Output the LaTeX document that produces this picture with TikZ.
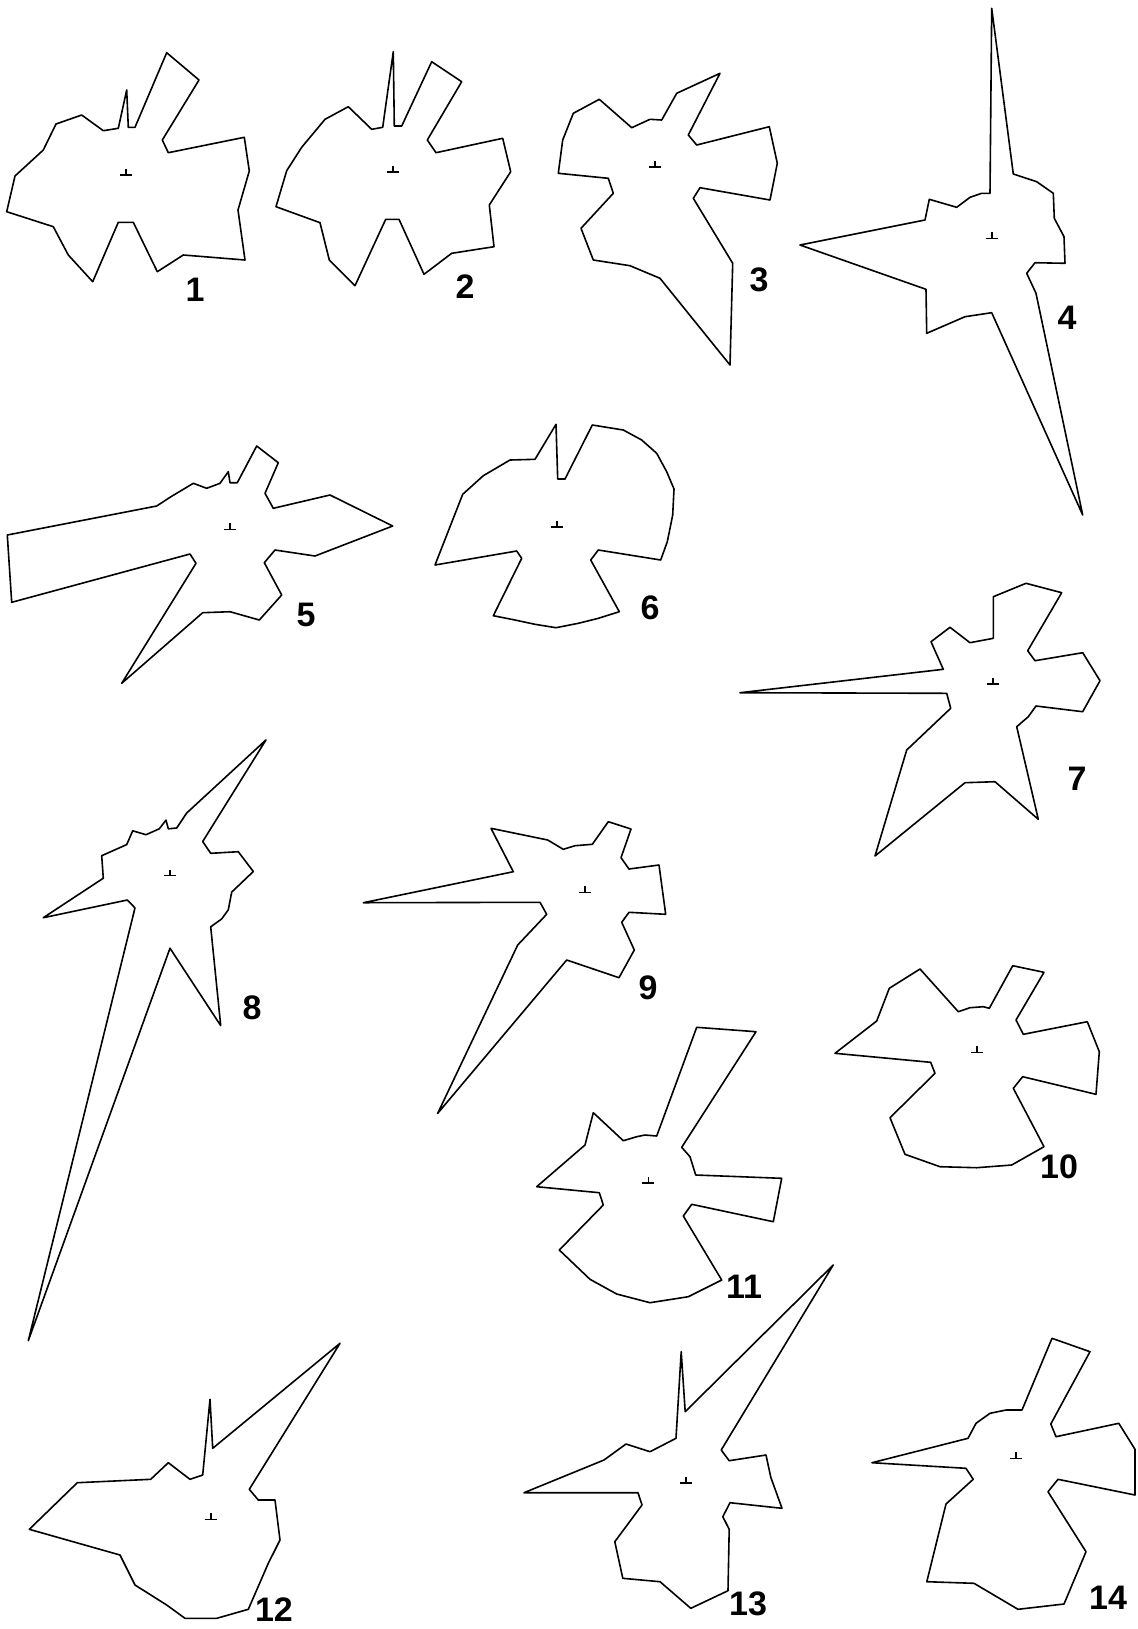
\documentclass[tikz,border=0pt]{standalone}
\usepackage{fontspec}
\setmainfont{Liberation Sans}
\begin{document}
\begin{tikzpicture}[x=0.5pt,y=-0.5pt,
  outline/.style={draw=black,line width=0.8pt,line join=round},
  ctrmk/.style={draw=black,line width=0.8pt},
  fignum/.style={font=\fontsize{17}{17}\selectfont\bfseries,inner sep=0pt},
  ctr/.pic={\draw[ctrmk] (-6,0) -- (6,0) (0,0) -- (0,-6);}]
\useasboundingbox[fill=white] (0,0) rectangle (1137,1629);

% Figure 1
\draw[outline] (118.3,128.3)--(126.7,90)--(128.3,127.3)--(135,127.3)--(166.7,52.7)--(199,80)--(162.3,140)--(168.3,152.7)--(244.3,137.3)--(249.3,171)--(238,210)--(245,260)--(183.3,255)--(157.3,271.7)--(133.3,222.3)--(118.3,222.3)--(92.7,281.7)--(68.3,255)--(53.3,226.7)--(6.7,211.7)--(15,176)--(43.3,150)--(56,124)--(81.7,115)--(103.3,130.7)--cycle;
\pic at (126,175) {ctr};
\node[fignum] (n1) at (195,290) {1};

% Figure 2
\draw[outline] (371.7,129.3)--(382.7,127.3)--(393.3,51.7)--(394.3,126)--(401.7,126)--(431.7,61.7)--(461.7,81.7)--(427.3,140)--(436,152.7)--(502.7,138.3)--(510.7,171.7)--(489.3,205)--(494,246.7)--(451.7,253.3)--(424,274.3)--(399,219.3)--(385.7,219.3)--(355,285.7)--(329.3,260)--(320,222.7)--(276,206.7)--(286.7,170.7)--(301.7,147.3)--(325,119.3)--(348.3,106.7)--cycle;
\pic at (392.7,171.7) {ctr};
\node[fignum] (n2) at (465,287) {2};

% Figure 3
\draw[outline] (631.7,127.7)--(650,119.3)--(661.7,120)--(676.7,93.3)--(720,73.3)--(688.3,135)--(696.7,145)--(769.3,126.7)--(777.3,163.3)--(770,200)--(700,187.7)--(693.3,198.3)--(732.7,263.3)--(730,365)--(660,278.3)--(630,265.7)--(593.3,260)--(581,228.3)--(613.3,193.3)--(608.3,178.3)--(558.3,173.3)--(562.7,140)--(573.3,113.3)--(599.3,99.3)--cycle;
\pic at (655,166.7) {ctr};
\node[fignum] (n3) at (759,280) {3};

% Figure 4
\draw[outline] (991.7,8.3)--(1013.3,174)--(1036.7,181.7)--(1053.3,193.3)--(1054.3,218.3)--(1064,236.7)--(1065,263.3)--(1035,262.7)--(1026.7,273.3)--(1036,293.3)--(1082.7,515)--(991.7,312.7)--(965,316.7)--(926.7,333.3)--(926,289.3)--(800,245)--(925,220)--(929.3,199.3)--(956.7,207.3)--(970,197.3)--(981.7,193.3)--(990,193.3)--cycle;
\pic at (991.7,238.3) {ctr};
\node[fignum] (n4) at (1067,318) {4};

% Figure 5
\draw[outline] (7.3,535)--(156.7,506)--(170,497.3)--(183.3,489.3)--(193.3,483.3)--(206.7,488.3)--(220,483.3)--(228.3,471.7)--(230,482.7)--(237.3,482.7)--(256.7,446)--(278.3,462.7)--(265,493.3)--(273.3,508.3)--(330,495)--(392.7,526)--(315,556)--(275,550)--(264.3,562.7)--(281.7,595)--(259.3,620)--(230,611.7)--(202.7,612.7)--(121.7,683.3)--(196,563.3)--(190,554)--(11.7,602.3)--cycle;
\pic at (230,529.3) {ctr};
\node[fignum] (n5) at (306,615) {5};

% Figure 6
\draw[outline] (556,424.3)--(557.7,479)--(565,479)--(592.3,425)--(623.3,430)--(641.7,440)--(656.7,453.3)--(666.7,471.7)--(674,489)--(672.7,515)--(667.3,541.7)--(660.7,560)--(598.3,550)--(590.7,560)--(619.3,611.7)--(598.3,618.3)--(578.3,623.3)--(556,627.7)--(535,624.3)--(515,620)--(493.3,615.7)--(521.7,558.3)--(516.7,551)--(435,565)--(462.7,494.3)--(483.3,475.7)--(510,460)--(535,459.3)--cycle;
\pic at (556.7,526.7) {ctr};
\node[fignum] (n6) at (650,608) {6};

% Figure 7
\draw[outline] (740,692.7)--(943.3,669.3)--(931,641.7)--(950,627.3)--(970,642.7)--(993.3,638.3)--(993.3,596.7)--(1026,583.3)--(1061.7,592.7)--(1027.7,650.7)--(1035,660.7)--(1082.7,652.7)--(1100,680.7)--(1082.7,711.7)--(1036,706)--(1028.3,716.7)--(1016.7,726.7)--(1038.3,819.3)--(995,781.7)--(965,782.7)--(875,856)--(906.7,750)--(950.7,708.3)--(946.7,693.3)--cycle;
\pic at (992.7,684) {ctr};
\node[fignum] (n7) at (1077,779) {7};

% Figure 8
\draw[outline] (266,739.9)--(202.7,841.5)--(210.7,853.3)--(238.3,851.7)--(253.3,871.5)--(231.7,892.1)--(228.3,909.8)--(221.7,918.9)--(210.7,926.8)--(220.7,1025.6)--(170,948.2)--(28.3,1340.7)--(135,907.9)--(127.3,900)--(43.3,917.7)--(103.3,878.2)--(101.7,855.7)--(126.7,844.6)--(132.7,830.8)--(146,834.7)--(159.3,828.8)--(166,820.1)--(168.3,828.8)--(176.7,828)--(186.7,813)--cycle;
\pic at (170,875.5) {ctr};
\node[fignum] (n8) at (252,1008) {8};

% Figure 9
\draw[outline] (363.3,902.7)--(513.3,871.7)--(491,828.3)--(547.7,840)--(563.3,849.3)--(575,845.7)--(592.3,844.3)--(608.3,821.7)--(631,829)--(621,857.7)--(629,869)--(659,865)--(665.7,914.3)--(629,912.3)--(621.7,922.3)--(634.3,950)--(619,977.7)--(566.7,960)--(437.7,1113.3)--(517.7,945)--(546.7,914.3)--(540,902.3)--cycle;
\pic at (585,892.3) {ctr};
\node[fignum] (n9) at (648,988) {9};

% Figure 10
\draw[outline] (835,1053.3)--(876.7,1021)--(889.3,988.3)--(920,969)--(958.3,1011.7)--(970,1007.7)--(983.3,1006.7)--(989.3,1008.3)--(1012.7,965.7)--(1044,972.3)--(1016,1020)--(1023.3,1034.3)--(1087.3,1021.7)--(1099.3,1051.7)--(1096,1094.3)--(1022.7,1076.7)--(1013.3,1088.3)--(1044,1146.7)--(1011.7,1165)--(976.7,1167.7)--(940,1166.7)--(905,1154.3)--(890,1117.7)--(935,1073.3)--(930.7,1062.3)--cycle;
\pic at (976.7,1052.3) {ctr};
\node[fignum] (n10) at (1059,1167) {10};

% Figure 11
\draw[outline] (536.7,1186.7)--(585,1145)--(593.3,1112.7)--(623.3,1140.7)--(636.7,1136.7)--(645,1135)--(656.7,1136)--(696.7,1027.3)--(756,1031.7)--(681.7,1147.3)--(690,1156.7)--(695.7,1175)--(781.7,1178.3)--(773.3,1221.7)--(691.7,1204.3)--(683.3,1216)--(721.7,1280)--(688.3,1296.7)--(650,1302.7)--(616.7,1294)--(590,1279.3)--(559.3,1250)--(603.3,1205)--(599.3,1192.7)--cycle;
\pic at (648.3,1182.7) {ctr};
\node[fignum] (n11) at (744,1287) {11};

% Figure 12
\draw[outline] (29.3,1529.3)--(77.3,1482.7)--(150.7,1479.3)--(168.3,1462.7)--(190,1479.3)--(202.7,1475)--(210,1399.3)--(212.7,1448.3)--(340,1343.3)--(249.3,1489.3)--(258.3,1500)--(275,1500)--(280,1540)--(268.3,1563.3)--(248.3,1609.3)--(216.7,1618.3)--(185,1618.3)--(166.7,1605)--(135,1585)--(120,1555)--cycle;
\pic at (210.7,1519.3) {ctr};
\node[fignum] (n12) at (274,1610) {12};

% Figure 13
\draw[outline] (524,1492.7)--(604,1460)--(626,1444)--(650,1451.7)--(676,1438.3)--(681.2,1351.7)--(685.2,1411.7)--(833.2,1265)--(721.2,1450)--(729.2,1460.7)--(766,1455)--(770.8,1477.3)--(782,1508.3)--(730,1502.7)--(722.8,1516.7)--(729.2,1529.3)--(728,1590.7)--(690.8,1608.3)--(660,1581.7)--(622.8,1578.3)--(614.8,1541.7)--(642,1505)--(638,1492.7)--cycle;
\pic at (686,1482.7) {ctr};
\node[fignum] (n13) at (748,1604) {13};

% Figure 14
\draw[outline] (872,1462.7)--(968,1438.3)--(976,1423.3)--(990,1413.3)--(1006,1410)--(1022,1410)--(1052,1338.3)--(1090,1351.7)--(1050.8,1424)--(1056,1436.7)--(1118.8,1423.3)--(1135,1449.3)--(1135,1495)--(1058,1479.3)--(1048,1491.7)--(1086,1551.7)--(1064,1604)--(1018,1609.3)--(974,1583.3)--(926.8,1581.7)--(946,1504)--(973.2,1479.3)--(966,1468.3)--cycle;
\pic at (1016,1458.3) {ctr};
\node[fignum] (n14) at (1108,1598) {14};
\end{tikzpicture}
\end{document}
